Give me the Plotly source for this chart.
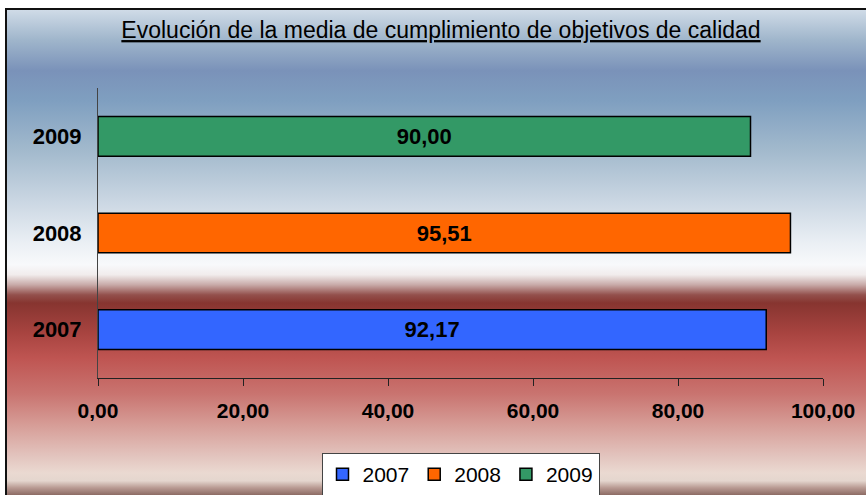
import base64
import plotly.graph_objects as go

years = ["2007", "2008", "2009"]
values = [92.17, 95.51, 90.00]
colors = ["#3366FF", "#FF6600", "#339966"]
tick_vals = [0, 20, 40, 60, 80, 100]
title_text = "Evolución de la media de cumplimiento de objetivos de calidad"

# Layout geometry (pixels)
W, H = 866, 495
L, R, T, B = 98, 823, 88, 378
pw, ph = R - L, B - T


def px_x(p):
    return (p - L) / pw


def px_y(p):
    return (B - p) / ph


# Background gradient (top of frame y=9 -> bottom y=495)
stops = [
    (10, "#cfdbe7"), (40, "#9fb5cb"), (70, "#7a92b9"), (100, "#7f9fc0"),
    (150, "#a3bacd"), (200, "#cbd7e3"), (240, "#eaeff4"), (262, "#f8f9fb"),
    (272, "#f1ecec"), (282, "#c8aaa8"), (292, "#93504c"), (300, "#873530"),
    (330, "#a84440"), (355, "#bf5552"), (390, "#c97470"), (420, "#d69c96"),
    (450, "#e2c2bc"), (468, "#ead9d1"), (476, "#e4d6ce"), (483, "#b89a92"),
    (495, "#6e4a44"),
]
top_px, bot_px = 9, 495
stop_xml = "".join(
    f'<stop offset="{(y - top_px) / (bot_px - top_px):.4f}" stop-color="{c}"/>'
    for y, c in stops
)
svg = (
    '<svg xmlns="http://www.w3.org/2000/svg" width="100" height="100" '
    'viewBox="0 0 100 100" preserveAspectRatio="none">'
    '<defs><linearGradient id="g" x1="0" y1="0" x2="0" y2="1">'
    f"{stop_xml}</linearGradient></defs>"
    '<rect x="0" y="0" width="100" height="100" fill="url(#g)"/></svg>'
)
src = "data:image/svg+xml;base64," + base64.b64encode(svg.encode()).decode()

fig = go.Figure()
for yr, v, c in zip(years, values, colors):
    fig.add_trace(go.Bar(
        x=[v], y=[yr], name=yr, orientation="h",
        marker=dict(color=c, line=dict(color="#000000", width=1.5)),
        text=[v], texttemplate="%{x:.2f}", textposition="inside",
        insidetextanchor="middle", textangle=0,
        textfont=dict(family="Liberation Sans, Arial", size=22, color="#000000", weight="bold"),
        cliponaxis=False,
    ))

fig.update_layout(
    width=W, height=H,
    margin=dict(l=L, r=W - R, t=T, b=H - B, pad=0, autoexpand=False),
    separators=",.",
    paper_bgcolor="#ffffff",
    plot_bgcolor="rgba(0,0,0,0)",
    barmode="overlay",
    bargap=0.59,
    font=dict(family="Liberation Sans, Arial", color="#000000"),
    title=dict(
        text=title_text,
        x=px_x(441), xref="paper", xanchor="center",
        y=1 - 30 / H, yref="container", yanchor="middle",
        font=dict(family="Liberation Sans, Arial", size=23, color="#000000", lineposition="under"),
    ),
    xaxis=dict(
        range=[0, 100], tickvals=tick_vals, tickformat=".2f",
        showgrid=False, zeroline=False, automargin=False,
        showline=True, linecolor="#222222", linewidth=1,
        ticks="outside", ticklen=7, tickcolor="#222222", tickwidth=1,
        ticklabelstandoff=7,
        tickfont=dict(family="Liberation Sans, Arial", size=21, color="#000000", weight="bold"),
        fixedrange=True,
    ),
    yaxis=dict(
        type="category", categoryorder="array", categoryarray=years,
        showgrid=False, zeroline=False, automargin=False,
        showline=True, linecolor="#444444", linewidth=1,
        ticks="", ticklabelstandoff=11,
        tickfont=dict(family="Liberation Sans, Arial", size=22, color="#000000", weight="bold"),
        fixedrange=True,
    ),
    legend=dict(
        orientation="h", x=0.5, xanchor="center", xref="paper",
        y=px_y(453), yanchor="top", yref="paper",
        bgcolor="#ffffff", bordercolor="#444444", borderwidth=1,
        font=dict(family="Liberation Sans, Arial", size=21, color="#000000"),
        itemclick=False, itemdoubleclick=False,
    ),
    images=[dict(
        source=src, xref="paper", yref="paper",
        x=px_x(6), y=px_y(top_px), sizex=(W + 5 - 6) / pw, sizey=(bot_px + 5 - top_px) / ph,
        xanchor="left", yanchor="top", sizing="stretch", layer="below",
    )],
    shapes=[dict(
        type="rect", xref="paper", yref="paper",
        x0=px_x(6), x1=px_x(W + 10), y0=px_y(H + 10), y1=px_y(9),
        line=dict(color="#111111", width=2), fillcolor="rgba(0,0,0,0)", layer="above",
    )],
)

fig.write_html(
    "out.html",
    config={"displayModeBar": False},
    post_script="document.body.style.margin='0';document.body.style.overflow='hidden';",
)
